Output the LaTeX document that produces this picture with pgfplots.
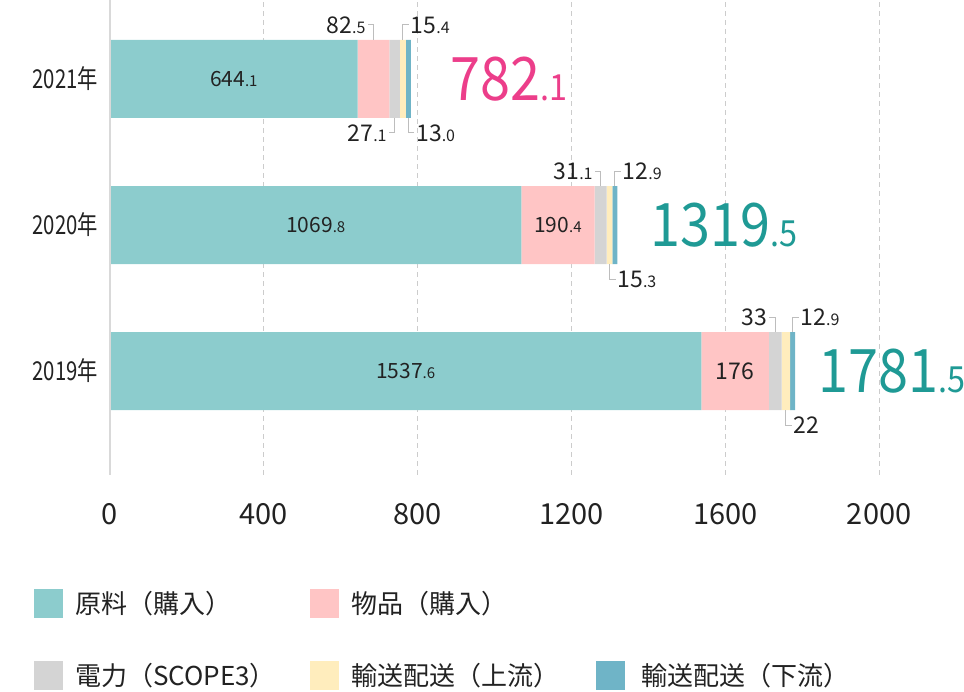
\documentclass[border=0pt]{standalone}
\usepackage{pgfplots}
\pgfplotsset{compat=1.18}
\usepackage{fontspec}
\setmainfont{Noto Sans CJK JP}
\newfontfamily\cond[FakeStretch=0.78]{Noto Sans CJK JP}
\newfontfamily\bigf[FakeStretch=0.9]{Noto Sans CJK JP}
\definecolor{cTeal}{HTML}{8CCCCD}
\definecolor{cPink}{HTML}{FFC5C5}
\definecolor{cGray}{HTML}{D4D4D4}
\definecolor{cYellow}{HTML}{FFEDBD}
\definecolor{cBlue}{HTML}{6FB4C7}
\definecolor{tPink}{HTML}{EC3E8A}
\definecolor{tTeal}{HTML}{1F9A95}
\definecolor{txt}{HTML}{222222}
\definecolor{leadc}{HTML}{BDBDBD}
% inner label
\newcommand{\inl}[2]{{\fontsize{21}{21}\selectfont #1{\fontsize{15}{15}\selectfont.#2}}}
% outer label
\newcommand{\outl}[2]{{\fontsize{23}{23}\selectfont #1{\fontsize{16}{16}\selectfont.#2}}}
\newcommand{\outi}[1]{{\fontsize{23}{23}\selectfont #1}}
% big total
\newcommand{\bignum}[2]{{\bigf\fontsize{60}{60}\selectfont #1{\fontsize{36}{36}\selectfont.#2}}}
% leaders: coordinate, text
\newcommand{\upleft}[2]{\draw[leadc,line width=1pt] (#1) ++(0,39) -- ++(0,15) -- ++(-6,0) node[anchor=east,inner sep=1.5pt,text=txt]{#2};}
\newcommand{\upright}[2]{\draw[leadc,line width=1pt] (#1) ++(0,39) -- ++(0,15) -- ++(6,0) node[anchor=west,inner sep=1.5pt,text=txt]{#2};}
\newcommand{\downleft}[2]{\draw[leadc,line width=1pt] (#1) ++(0,-39) -- ++(0,-15) -- ++(-6,0) node[anchor=east,inner sep=1.5pt,text=txt]{#2};}
\newcommand{\downright}[2]{\draw[leadc,line width=1pt] (#1) ++(0,-39) -- ++(0,-15) -- ++(6,0) node[anchor=west,inner sep=1.5pt,text=txt]{#2};}
\begin{document}
\begin{tikzpicture}[x=1pt,y=1pt]
\path[use as bounding box] (0,0) rectangle (964,692);
\begin{axis}[
  at={(110pt,217pt)}, anchor=south west,
  scale only axis, width=846pt, height=475pt,
  xbar stacked, bar width=78pt,
  xmin=0, xmax=2200, ymin=-0.712, ymax=2.541,
  axis line style={draw=none},
  xtick={0,400,...,2000}, ytick={0,1,2},
  yticklabels={2019年,2020年,2021年},
  major tick length=0pt,
  xmajorgrids,
  grid style={color=gray!40, line width=1pt, dash pattern=on 5pt off 4pt},
  /pgf/number format/assume math mode=true,
  /pgf/number format/1000 sep={},
  xticklabel style={font=\fontsize{29}{29}\selectfont, text=txt, inner sep=0pt, anchor=north, yshift=-28pt},
  yticklabel style={font=\cond\fontsize{26}{26}\selectfont, text=txt, inner sep=0pt, anchor=east, xshift=-12pt},
  clip=false,
]
\addplot[fill=cTeal, draw=none] coordinates {(1537.6,0) (1069.8,1) (644.1,2)};
\addplot[fill=cPink, draw=none] coordinates {(176,0) (190.4,1) (82.5,2)};
\addplot[fill=cGray, draw=none] coordinates {(33,0) (31.1,1) (27.1,2)};
\addplot[fill=cYellow, draw=none] coordinates {(22,0) (15.3,1) (15.4,2)};
\addplot[fill=cBlue, draw=none] coordinates {(12.9,0) (12.9,1) (13.0,2)};
\coordinate (zb) at (axis cs:0,-0.712);
\coordinate (zt) at (axis cs:0,2.541);
% inner label positions
\coordinate (i21) at (axis cs:322.05,2);
\coordinate (i20a) at (axis cs:534.9,1);
\coordinate (i20b) at (axis cs:1165.0,1);
\coordinate (i19a) at (axis cs:768.8,0);
\coordinate (i19b) at (axis cs:1625.6,0);
% leader anchors (segment centres)
\coordinate (a21p) at (axis cs:685.35,2);
\coordinate (a21y) at (axis cs:761.4,2);
\coordinate (a21g) at (axis cs:740.15,2);
\coordinate (a21b) at (axis cs:775.6,2);
\coordinate (a20g) at (axis cs:1275.75,1);
\coordinate (a20b) at (axis cs:1313.05,1);
\coordinate (a20y) at (axis cs:1298.95,1);
\coordinate (a19g) at (axis cs:1730.1,0);
\coordinate (a19b) at (axis cs:1775.05,0);
\coordinate (a19y) at (axis cs:1757.6,0);
% totals
\coordinate (s21) at (axis cs:886,2);
\coordinate (s20) at (axis cs:1405,1);
\coordinate (s19) at (axis cs:1841,0);
\end{axis}
\draw[color=gray!30, line width=1.5pt] (zb) -- (zt);
\node[text=txt] at (i21) {\inl{644}{1}};
\node[text=txt] at (i20a) {\inl{1069}{8}};
\node[text=txt] at (i20b) {\inl{190}{4}};
\node[text=txt] at (i19a) {\inl{1537}{6}};
\node[text=txt] at (i19b) {\outi{176}};
\upleft{a21p}{\outl{82}{5}}
\upright{a21y}{\outl{15}{4}}
\downleft{a21g}{\outl{27}{1}}
\downright{a21b}{\outl{13}{0}}
\upleft{a20g}{\outl{31}{1}}
\upright{a20b}{\outl{12}{9}}
\downright{a20y}{\outl{15}{3}}
\upleft{a19g}{\outi{33}}
\upright{a19b}{\outl{12}{9}}
\downright{a19y}{\outi{22}}
\node[anchor=west, inner sep=0pt, text=tPink] at (s21) {\bignum{782}{1}};
\node[anchor=west, inner sep=0pt, text=tTeal] at (s20) {\bignum{1319}{5}};
\node[anchor=west, inner sep=0pt, text=tTeal] at (s19) {\bignum{1781}{5}};
% legend
\begin{scope}[every node/.style={anchor=west, inner sep=0pt, text=txt, font=\fontsize{26}{26}\selectfont}]
\fill[cTeal] (34,74) rectangle (63,103);
\node at (75,88.5) {原料（購入）};
\fill[cPink] (310,74) rectangle (339,103);
\node at (351,88.5) {物品（購入）};
\fill[cGray] (34,2) rectangle (63,31);
\node at (75,16.5) {電力（SCOPE3）};
\fill[cYellow] (310,2) rectangle (339,31);
\node at (351,16.5) {輸送配送（上流）};
\fill[cBlue] (596,2) rectangle (625,31);
\node at (641,16.5) {輸送配送（下流）};
\end{scope}
\end{tikzpicture}
\end{document}
